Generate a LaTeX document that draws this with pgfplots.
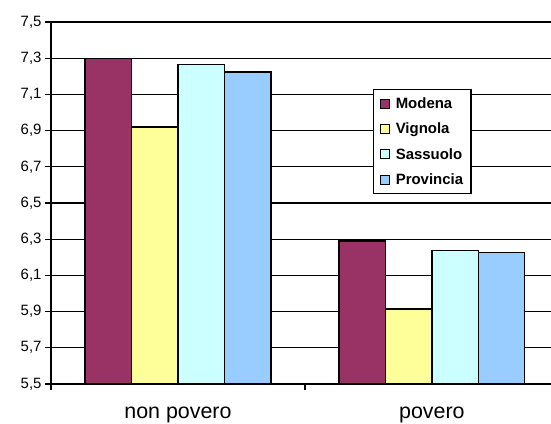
\documentclass[border=0pt]{standalone}
\usepackage{pgfplots}
\pgfplotsset{compat=1.18}
\usepackage{fontspec}
\setmainfont{Liberation Sans}
\definecolor{cModena}{HTML}{993366}
\definecolor{cVignola}{HTML}{FFFF99}
\definecolor{cSassuolo}{HTML}{CCFFFF}
\definecolor{cProvincia}{HTML}{99CCFF}
\begin{document}
\begin{tikzpicture}
\begin{axis}[
  at={(51bp,40bp)}, anchor=south west,
  scale only axis, width=500bp, height=362bp,
  xmin=-0.5, xmax=1.469, ymin=5.5, ymax=7.5,
  ybar, bar width=0.183,
  axis lines*=left, axis line style={-, line width=1.3bp},
  ytick={5.5,5.7,5.9,6.1,6.3,6.5,6.7,6.9,7.1,7.3,7.5},
  ymajorgrids, major grid style={black, line width=1.3bp},
  xtick={-0.5,0.5}, xticklabels={},
  extra x ticks={0,1}, extra x tick labels={non povero, povero},
  extra x tick style={major tick length=0pt, grid=none,
    xticklabel style={font=\fontsize{21.5}{24}\selectfont, yshift=-19bp}},
  tick align=outside, major tick length=6bp,
  tick style={black, line width=1.3bp},
  yticklabel style={font=\fontsize{15}{18}\selectfont},
  /pgf/number format/.cd, use comma, fixed, fixed zerofill, precision=1, assume math mode=true, /pgfplots/.cd,
  legend style={at={(0.644,0.815)}, anchor=north west, draw=black, line width=1.3bp,
    font=\bfseries\fontsize{15}{18}\selectfont, inner xsep=6bp, inner ysep=6bp, row sep=9bp},
  legend cell align=left,
  legend image code/.code={\draw[#1,draw=black,line width=1bp] (0bp,-4.5bp) rectangle (9bp,4.5bp);\path (13bp,0bp);},
]
\addplot[fill=cModena, draw=black, line width=1.3bp, bar shift=-0.2745] coordinates {(0,7.30) (1,6.29)};
\addplot[fill=cVignola, draw=black, line width=1.3bp, bar shift=-0.0915] coordinates {(0,6.92) (1,5.915)};
\addplot[fill=cSassuolo, draw=black, line width=1.3bp, bar shift=0.0915] coordinates {(0,7.267) (1,6.237)};
\addplot[fill=cProvincia, draw=black, line width=1.3bp, bar shift=0.2745] coordinates {(0,7.223) (1,6.226)};
\legend{Modena, Vignola, Sassuolo, Provincia}
\end{axis}
\pgfresetboundingbox
\path (0,0) rectangle (551bp,424bp);
\end{tikzpicture}
\end{document}
